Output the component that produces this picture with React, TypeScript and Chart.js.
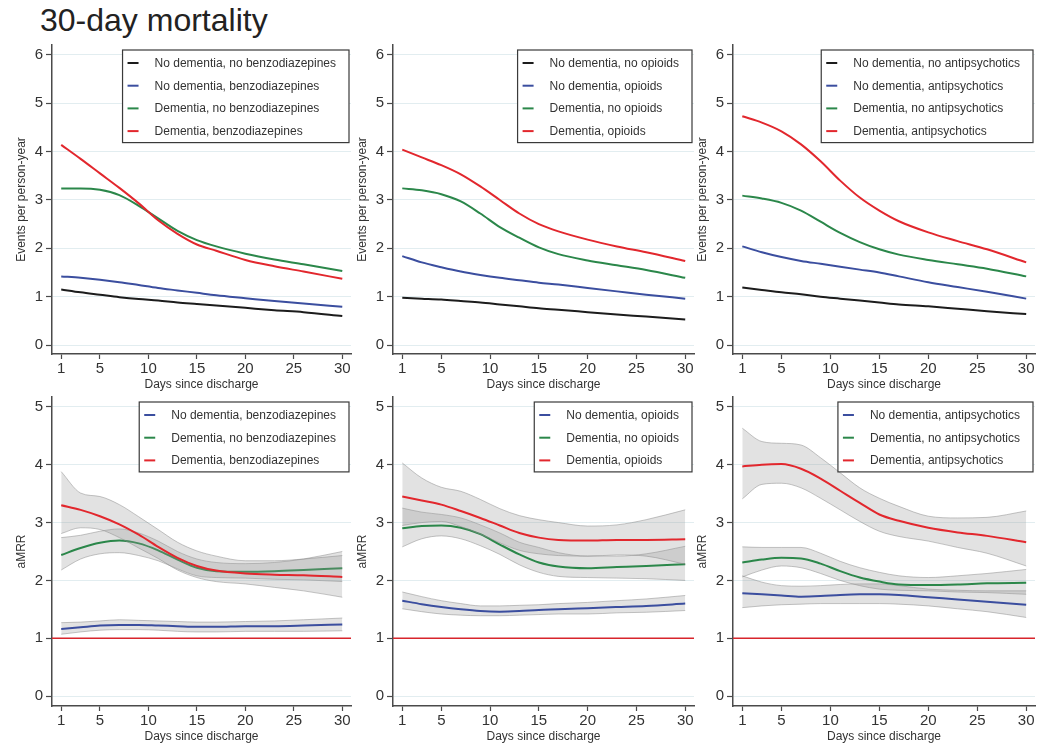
import React, { useEffect, useRef } from "react";
import { Chart, registerables } from "chart.js";

Chart.register(...registerables);

// ---------------- data ----------------
const DAYS = [1, 3, 5, 7, 9, 11, 13, 15, 17, 20, 23, 26, 30];
const X_TICKS = [1, 5, 10, 15, 20, 25, 30];
const RATE_TICKS = [0, 1, 2, 3, 4, 5, 6];
const MRR_TICKS = [0, 1, 2, 3, 4, 5];
const X_TITLE = "Days since discharge";
const RATE_TITLE = "Events per person-year";
const MRR_TITLE = "aMRR";
const MAIN_TITLE = "30-day mortality";
const REFERENCE_MRR = 1;
const DRUGS = ["benzodiazepines", "opioids", "antipsychotics"];

// Incidence rates (events per person-year)
const BENZO_NODEM_NODRUG = [1.15, 1.09, 1.04, 0.99, 0.95, 0.92, 0.88, 0.85, 0.82, 0.77, 0.72, 0.68, 0.6];
const BENZO_NODEM_DRUG = [1.42, 1.39, 1.35, 1.3, 1.24, 1.18, 1.13, 1.08, 1.03, 0.97, 0.91, 0.86, 0.79];
const BENZO_DEM_NODRUG = [3.24, 3.24, 3.21, 3.1, 2.88, 2.62, 2.36, 2.17, 2.04, 1.89, 1.77, 1.67, 1.53];
const BENZO_DEM_DRUG = [4.14, 3.85, 3.55, 3.25, 2.93, 2.58, 2.3, 2.08, 1.95, 1.76, 1.63, 1.52, 1.37];

const OPI_NODEM_NODRUG = [0.98, 0.96, 0.94, 0.91, 0.88, 0.84, 0.8, 0.76, 0.73, 0.68, 0.63, 0.59, 0.53];
const OPI_NODEM_DRUG = [1.84, 1.71, 1.61, 1.52, 1.45, 1.39, 1.34, 1.29, 1.25, 1.18, 1.11, 1.04, 0.96];
const OPI_DEM_NODRUG = [3.24, 3.2, 3.12, 2.97, 2.72, 2.44, 2.22, 2.02, 1.88, 1.75, 1.65, 1.55, 1.39];
const OPI_DEM_DRUG = [4.04, 3.88, 3.72, 3.53, 3.28, 3.0, 2.72, 2.5, 2.35, 2.18, 2.04, 1.92, 1.74];

const AP_NODEM_NODRUG = [1.19, 1.14, 1.09, 1.05, 1.0, 0.96, 0.92, 0.88, 0.84, 0.8, 0.75, 0.7, 0.64];
const AP_NODEM_DRUG = [2.04, 1.92, 1.82, 1.74, 1.68, 1.62, 1.56, 1.5, 1.42, 1.3, 1.2, 1.1, 0.96];
const AP_DEM_NODRUG = [3.09, 3.03, 2.94, 2.78, 2.55, 2.32, 2.13, 1.98, 1.87, 1.76, 1.67, 1.58, 1.42];
const AP_DEM_DRUG = [4.73, 4.6, 4.42, 4.15, 3.8, 3.4, 3.05, 2.78, 2.56, 2.33, 2.15, 1.98, 1.71];

// aMRR with 95% CI
const BENZO_MRR_NODEM_DRUG = [1.16, 1.19, 1.22, 1.23, 1.23, 1.22, 1.21, 1.2, 1.2, 1.21, 1.21, 1.22, 1.24];
const BENZO_MRR_NODEM_DRUG_LO = [1.07, 1.11, 1.14, 1.15, 1.15, 1.14, 1.12, 1.11, 1.11, 1.12, 1.12, 1.12, 1.13];
const BENZO_MRR_NODEM_DRUG_HI = [1.27, 1.28, 1.3, 1.32, 1.31, 1.3, 1.29, 1.28, 1.28, 1.29, 1.3, 1.32, 1.35];
const BENZO_MRR_DEM_NODRUG = [2.44, 2.56, 2.65, 2.69, 2.64, 2.52, 2.36, 2.22, 2.16, 2.15, 2.16, 2.18, 2.21];
const BENZO_MRR_DEM_NODRUG_LO = [2.18, 2.37, 2.46, 2.48, 2.43, 2.34, 2.2, 2.08, 2.05, 2.04, 2.02, 2.01, 1.98];
const BENZO_MRR_DEM_NODRUG_HI = [2.74, 2.78, 2.85, 2.89, 2.82, 2.68, 2.5, 2.37, 2.31, 2.29, 2.31, 2.37, 2.5];
const BENZO_MRR_DEM_DRUG = [3.3, 3.22, 3.11, 2.97, 2.79, 2.58, 2.39, 2.25, 2.17, 2.12, 2.1, 2.09, 2.06];
const BENZO_MRR_DEM_DRUG_LO = [2.81, 2.91, 2.88, 2.74, 2.56, 2.38, 2.18, 2.05, 1.98, 1.94, 1.88, 1.82, 1.71];
const BENZO_MRR_DEM_DRUG_HI = [3.88, 3.51, 3.45, 3.31, 3.1, 2.88, 2.66, 2.51, 2.42, 2.34, 2.34, 2.37, 2.43];

const OPI_MRR_NODEM_DRUG = [1.65, 1.59, 1.54, 1.5, 1.47, 1.46, 1.47, 1.49, 1.5, 1.52, 1.54, 1.56, 1.6];
const OPI_MRR_NODEM_DRUG_LO = [1.51, 1.46, 1.42, 1.4, 1.39, 1.39, 1.4, 1.41, 1.42, 1.42, 1.44, 1.45, 1.48];
const OPI_MRR_NODEM_DRUG_HI = [1.8, 1.72, 1.65, 1.6, 1.56, 1.56, 1.57, 1.58, 1.6, 1.62, 1.65, 1.68, 1.74];
const OPI_MRR_DEM_NODRUG = [2.9, 2.94, 2.95, 2.91, 2.8, 2.62, 2.45, 2.31, 2.24, 2.21, 2.23, 2.25, 2.28];
const OPI_MRR_DEM_NODRUG_LO = [2.58, 2.72, 2.77, 2.72, 2.6, 2.45, 2.27, 2.14, 2.07, 2.05, 2.04, 2.03, 2.0];
const OPI_MRR_DEM_NODRUG_HI = [3.25, 3.18, 3.14, 3.08, 2.96, 2.82, 2.66, 2.57, 2.48, 2.42, 2.42, 2.46, 2.59];
const OPI_MRR_DEM_DRUG = [3.45, 3.38, 3.31, 3.2, 3.08, 2.95, 2.82, 2.74, 2.7, 2.69, 2.7, 2.7, 2.71];
const OPI_MRR_DEM_DRUG_LO = [2.95, 3.0, 3.02, 2.93, 2.8, 2.65, 2.52, 2.46, 2.43, 2.42, 2.44, 2.42, 2.28];
const OPI_MRR_DEM_DRUG_HI = [4.03, 3.77, 3.61, 3.54, 3.4, 3.24, 3.12, 3.05, 3.0, 2.94, 2.96, 3.05, 3.22];

const AP_MRR_NODEM_DRUG = [1.78, 1.76, 1.74, 1.72, 1.73, 1.75, 1.76, 1.76, 1.75, 1.71, 1.67, 1.63, 1.58];
const AP_MRR_NODEM_DRUG_LO = [1.53, 1.56, 1.58, 1.59, 1.6, 1.6, 1.6, 1.6, 1.59, 1.56, 1.51, 1.46, 1.36];
const AP_MRR_NODEM_DRUG_HI = [2.08, 1.97, 1.91, 1.9, 1.91, 1.93, 1.94, 1.94, 1.91, 1.85, 1.83, 1.82, 1.82];
const AP_MRR_DEM_NODRUG = [2.31, 2.36, 2.39, 2.38, 2.29, 2.16, 2.05, 1.98, 1.93, 1.92, 1.93, 1.95, 1.96];
const AP_MRR_DEM_NODRUG_LO = [2.06, 2.18, 2.25, 2.22, 2.12, 2.0, 1.91, 1.85, 1.83, 1.82, 1.8, 1.79, 1.76];
const AP_MRR_DEM_NODRUG_HI = [2.58, 2.57, 2.57, 2.57, 2.47, 2.33, 2.22, 2.14, 2.08, 2.05, 2.08, 2.12, 2.19];
const AP_MRR_DEM_DRUG = [3.97, 4.0, 4.01, 3.93, 3.76, 3.55, 3.34, 3.14, 3.03, 2.91, 2.83, 2.77, 2.66];
const AP_MRR_DEM_DRUG_LO = [3.41, 3.66, 3.68, 3.6, 3.42, 3.22, 3.02, 2.85, 2.76, 2.68, 2.57, 2.47, 2.25];
const AP_MRR_DEM_DRUG_HI = [4.63, 4.4, 4.37, 4.34, 4.12, 3.86, 3.6, 3.42, 3.28, 3.11, 3.08, 3.09, 3.2];

// ---------------- styles ----------------
const FONT = '"Liberation Sans", Arial, Helvetica, sans-serif';
const C_BLACK = "#1c1c1c";
const C_BLUE = "#3b4e9f";
const C_GREEN = "#2b874a";
const C_RED = "#e2272d";
const C_REF = "#d8252c";
const BAND_FILL = "rgba(150,150,150,0.28)";
const BAND_EDGE = "rgba(140,140,140,0.5)";
const GRID = "#e2edf0";
const AXIS = "#4a4a4a";
const TEXT = "#333333";

type Series = { label: string; color: string; values: number[]; lo?: number[]; hi?: number[] };
type PanelSpec = {
  col: number;
  row: number;
  yTitle: string;
  yTicks: number[];
  yMin: number;
  yMax: number;
  refLine: boolean;
  series: Series[];
};

const lbl = (dem: boolean, drug: boolean, d: string) =>
  `${dem ? "Dementia" : "No dementia"}, ${drug ? "" : "no "}${d}`;

const RATE_SETS = [
  [BENZO_NODEM_NODRUG, BENZO_NODEM_DRUG, BENZO_DEM_NODRUG, BENZO_DEM_DRUG],
  [OPI_NODEM_NODRUG, OPI_NODEM_DRUG, OPI_DEM_NODRUG, OPI_DEM_DRUG],
  [AP_NODEM_NODRUG, AP_NODEM_DRUG, AP_DEM_NODRUG, AP_DEM_DRUG],
];
const MRR_SETS = [
  [
    [BENZO_MRR_NODEM_DRUG, BENZO_MRR_NODEM_DRUG_LO, BENZO_MRR_NODEM_DRUG_HI],
    [BENZO_MRR_DEM_NODRUG, BENZO_MRR_DEM_NODRUG_LO, BENZO_MRR_DEM_NODRUG_HI],
    [BENZO_MRR_DEM_DRUG, BENZO_MRR_DEM_DRUG_LO, BENZO_MRR_DEM_DRUG_HI],
  ],
  [
    [OPI_MRR_NODEM_DRUG, OPI_MRR_NODEM_DRUG_LO, OPI_MRR_NODEM_DRUG_HI],
    [OPI_MRR_DEM_NODRUG, OPI_MRR_DEM_NODRUG_LO, OPI_MRR_DEM_NODRUG_HI],
    [OPI_MRR_DEM_DRUG, OPI_MRR_DEM_DRUG_LO, OPI_MRR_DEM_DRUG_HI],
  ],
  [
    [AP_MRR_NODEM_DRUG, AP_MRR_NODEM_DRUG_LO, AP_MRR_NODEM_DRUG_HI],
    [AP_MRR_DEM_NODRUG, AP_MRR_DEM_NODRUG_LO, AP_MRR_DEM_NODRUG_HI],
    [AP_MRR_DEM_DRUG, AP_MRR_DEM_DRUG_LO, AP_MRR_DEM_DRUG_HI],
  ],
];

const PANELS: PanelSpec[] = [];
DRUGS.forEach((d, c) => {
  const r = RATE_SETS[c];
  PANELS.push({
    col: c, row: 0, yTitle: RATE_TITLE, yTicks: RATE_TICKS, yMin: -0.185, yMax: 6.205, refLine: false,
    series: [
      { label: lbl(false, false, d), color: C_BLACK, values: r[0] },
      { label: lbl(false, true, d), color: C_BLUE, values: r[1] },
      { label: lbl(true, false, d), color: C_GREEN, values: r[2] },
      { label: lbl(true, true, d), color: C_RED, values: r[3] },
    ],
  });
});
DRUGS.forEach((d, c) => {
  const m = MRR_SETS[c];
  PANELS.push({
    col: c, row: 1, yTitle: MRR_TITLE, yTicks: MRR_TICKS, yMin: -0.17, yMax: 5.17, refLine: true,
    series: [
      { label: lbl(false, true, d), color: C_BLUE, values: m[0][0], lo: m[0][1], hi: m[0][2] },
      { label: lbl(true, false, d), color: C_GREEN, values: m[1][0], lo: m[1][1], hi: m[1][2] },
      { label: lbl(true, true, d), color: C_RED, values: m[2][0], lo: m[2][1], hi: m[2][2] },
    ],
  });
});

// ---------------- layout ----------------
const COL_AXIS = [52, 393, 733];
const COL_RIGHT = [351, 694, 1035];
const ROW_TOP = [43, 395];
const PLOT_H = 311;
const Y_SCALE_W = 52;
const X_SCALE_H = 40;
const PAD_TOP = 10;
const PAD_RIGHT = 12;
const X_MIN = 0.05;
const X_MAX = 30.9;

const pts = (values: number[]) => DAYS.map((d, i) => ({ x: d, y: values[i] }));

function buildDatasets(series: Series[]) {
  const ds: any[] = [];
  const n = series.length;
  series.forEach((s, k) => {
    const depth = (n - k) * 10;
    const common = { pointRadius: 0, cubicInterpolationMode: "monotone", clip: false };
    if (s.lo && s.hi) {
      ds.push({ ...common, data: pts(s.hi), borderColor: BAND_EDGE, borderWidth: 1, fill: "+1", backgroundColor: BAND_FILL, order: depth + 5 });
      ds.push({ ...common, data: pts(s.lo), borderColor: BAND_EDGE, borderWidth: 1, fill: false, order: depth + 4 });
    }
    ds.push({ ...common, label: s.label, data: pts(s.values), borderColor: s.color, borderWidth: 2, fill: false, order: depth });
  });
  return ds;
}

function legendPlugin(series: Series[]) {
  return {
    id: "boxLegend",
    afterDraw(chart: any) {
      const { ctx, chartArea } = chart;
      ctx.save();
      ctx.font = `12px ${FONT}`;
      const textW = Math.max(...series.map((s) => ctx.measureText(s.label).width));
      const rowH = 22.7;
      const w = 32 + textW + 13;
      const h = 13 + rowH * (series.length - 1) + 11.5;
      const right = chartArea.right - 2;
      const left = right - w;
      const top = chartArea.top + 5;
      ctx.fillStyle = "#ffffff";
      ctx.fillRect(left, top, w, h);
      ctx.strokeStyle = "#3a3a3a";
      ctx.lineWidth = 1.2;
      ctx.strokeRect(left, top, w, h);
      series.forEach((s, i) => {
        const y = top + 13 + i * rowH;
        ctx.strokeStyle = s.color;
        ctx.lineWidth = 2;
        ctx.beginPath();
        ctx.moveTo(left + 5, y);
        ctx.lineTo(left + 16, y);
        ctx.stroke();
        ctx.fillStyle = TEXT;
        ctx.textBaseline = "middle";
        ctx.textAlign = "left";
        ctx.fillText(s.label, left + 32, y + 0.5);
      });
      ctx.restore();
    },
  };
}

const refLinePlugin = {
  id: "refLine",
  beforeDatasetsDraw(chart: any) {
    const { ctx, chartArea, scales } = chart;
    const y = scales.y.getPixelForValue(REFERENCE_MRR);
    ctx.save();
    ctx.strokeStyle = C_REF;
    ctx.lineWidth = 1.5;
    ctx.beginPath();
    ctx.moveTo(chartArea.left, y);
    ctx.lineTo(chartArea.right, y);
    ctx.stroke();
    ctx.restore();
  },
};

function Panel({ spec }: { spec: PanelSpec }) {
  const ref = useRef<HTMLCanvasElement | null>(null);
  const axisX = COL_AXIS[spec.col];
  const left = axisX - Y_SCALE_W;
  const width = Y_SCALE_W + (COL_RIGHT[spec.col] - axisX) + PAD_RIGHT;
  const top = ROW_TOP[spec.row] - PAD_TOP;
  const height = PAD_TOP + PLOT_H + X_SCALE_H;

  useEffect(() => {
    if (!ref.current) return;
    const plugins: any[] = [legendPlugin(spec.series)];
    if (spec.refLine) plugins.push(refLinePlugin);
    const chart = new Chart(ref.current, {
      type: "line",
      data: { datasets: buildDatasets(spec.series) },
      options: {
        animation: false,
        responsive: false,
        maintainAspectRatio: false,
        devicePixelRatio: 1,
        layout: { padding: { left: 0, top: PAD_TOP, right: PAD_RIGHT, bottom: 0 } },
        plugins: { legend: { display: false }, tooltip: { enabled: false }, title: { display: false } },
        scales: {
          x: {
            type: "linear",
            min: X_MIN,
            max: X_MAX,
            afterBuildTicks: (s: any) => {
              s.ticks = X_TICKS.map((v) => ({ value: v }));
            },
            afterFit: (s: any) => {
              s.height = X_SCALE_H;
            },
            ticks: {
              font: { size: 15, family: FONT },
              color: TEXT,
              padding: 1,
              maxRotation: 0,
              autoSkip: false,
              callback: (v: any) => String(v),
            },
            grid: { display: true, drawOnChartArea: false, drawTicks: true, tickLength: 5, tickColor: AXIS, tickWidth: 1.2 },
            border: { display: true, color: AXIS, width: 1.5 },
            title: { display: true, text: X_TITLE, color: TEXT, font: { size: 12, family: FONT }, padding: { top: 0, bottom: 2 } },
          },
          y: {
            type: "linear",
            min: spec.yMin,
            max: spec.yMax,
            afterBuildTicks: (s: any) => {
              s.ticks = spec.yTicks.map((v) => ({ value: v }));
            },
            afterFit: (s: any) => {
              s.width = Y_SCALE_W;
            },
            ticks: {
              font: { size: 15, family: FONT },
              color: TEXT,
              padding: 3,
              autoSkip: false,
              callback: (v: any) => String(v),
            },
            grid: { display: true, color: GRID, lineWidth: 1, drawTicks: true, tickLength: 6, tickColor: AXIS, tickWidth: 1.2 },
            border: { display: true, color: AXIS, width: 1.5 },
            title: { display: true, text: spec.yTitle, color: TEXT, font: { size: 12, family: FONT }, padding: { top: 14, bottom: 0 } },
          },
        },
      } as any,
      plugins,
    });
    return () => chart.destroy();
  }, [spec]);

  return (
    <canvas
      ref={ref}
      width={width}
      height={height}
      style={{ position: "absolute", left, top, width, height }}
    />
  );
}

export default function App() {
  return (
    <div
      style={{
        position: "absolute",
        left: 0,
        top: 0,
        width: 1047,
        height: 744,
        overflow: "hidden",
        background: "#ffffff",
        fontFamily: FONT,
      }}
    >
      <div
        style={{
          position: "absolute",
          left: 40,
          top: 4,
          fontSize: 32,
          lineHeight: 1,
          color: "#222222",
          whiteSpace: "nowrap",
        }}
      >
        {MAIN_TITLE}
      </div>
      {PANELS.map((p, i) => (
        <Panel key={i} spec={p} />
      ))}
    </div>
  );
}
